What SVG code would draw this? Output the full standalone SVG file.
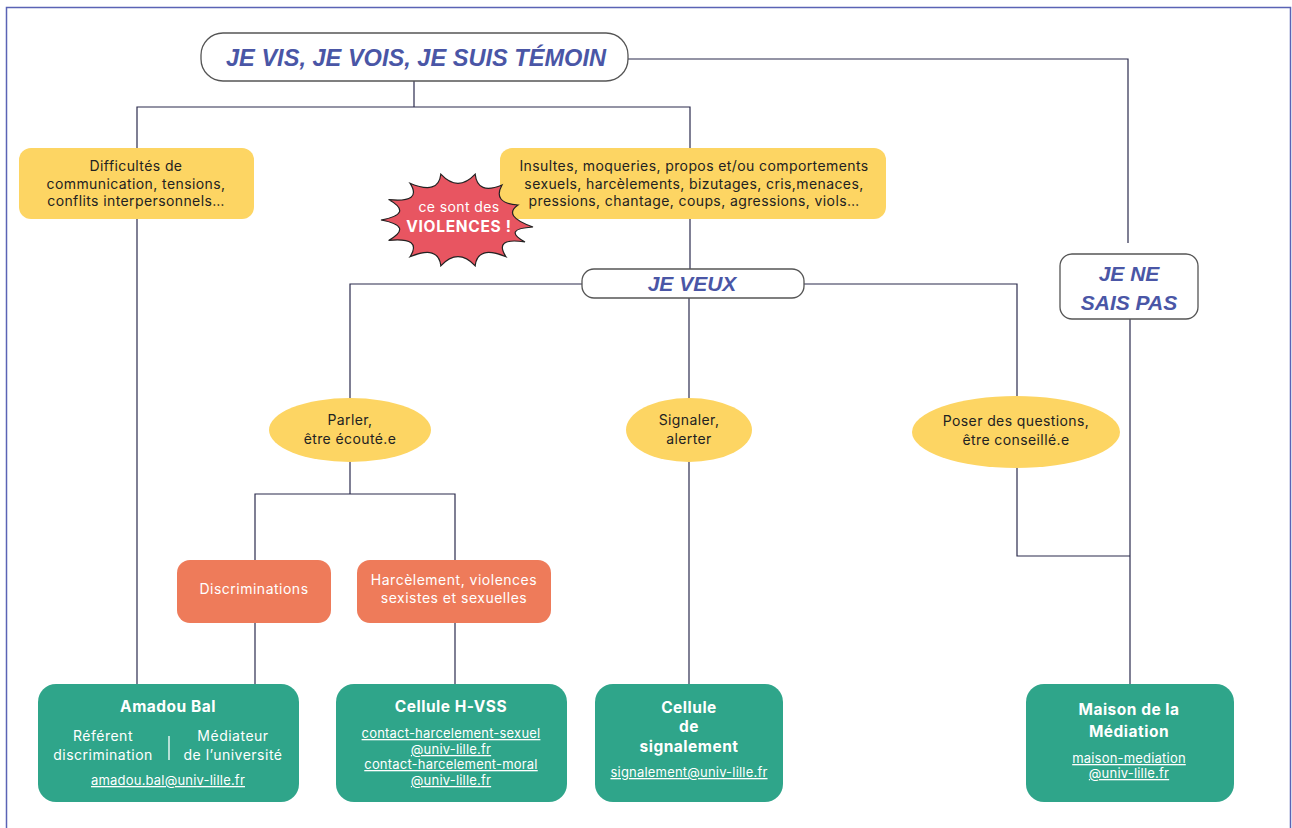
<svg xmlns="http://www.w3.org/2000/svg" width="1292" height="828" viewBox="0 0 1292 828">
<style>
.frame{fill:none;stroke:#5a63b5;stroke-width:1.5}
.conn line,.conn polyline{fill:none;stroke:#2b2b4d;stroke-width:1.2}
.hand{fill:#fff;stroke:#555;stroke-width:1.3}
.ht{font-family:"Liberation Sans",Arial,sans-serif;font-weight:bold;font-style:italic;fill:#4a56a6;text-anchor:middle}
.yel{fill:#fdd563}
.ora{fill:#ee7b5a}
.grn{fill:#2fa58a}
.t{font-family:Inter,"Noto Sans",sans-serif;font-size:14px;letter-spacing:0.4px;fill:#222;text-anchor:middle}
.w{font-family:Inter,"Noto Sans",sans-serif;fill:#fff;text-anchor:middle}
.b{font-weight:bold;font-size:15.5px;letter-spacing:0.5px}
.s{font-size:14px;letter-spacing:0.5px}
.u{font-size:13px;letter-spacing:0.2px;text-decoration:underline}
</style>
<rect x="0" y="0" width="1292" height="828" fill="#fff"/>
<polyline class="frame" points="6.5,828 6.5,7.5 1290.5,7.5 1290.5,828"/>
<g id="connectors" class="conn">
<line x1="414" y1="81" x2="414" y2="107"/>
<polyline points="137,148 137,107 690,107 690,148"/>
<polyline points="628,59 1128,59 1128,243"/>
<line x1="137" y1="219" x2="137" y2="684"/>
<line x1="690" y1="219" x2="690" y2="269"/>
<polyline points="582,284 350,284 350,398"/>
<polyline points="804,284 1017,284 1017,396"/>
<line x1="689" y1="298" x2="689" y2="398"/>
<line x1="689" y1="462" x2="689" y2="684"/>
<line x1="350" y1="462" x2="350" y2="494"/>
<polyline points="255,560 255,494 455,494 455,560"/>
<line x1="255" y1="623" x2="255" y2="684"/>
<line x1="455" y1="623" x2="455" y2="684"/>
<polyline points="1017,468 1017,556 1130,556"/>
<line x1="1130" y1="319" x2="1130" y2="684"/>
</g>
<g id="title">
<rect class="hand" x="201" y="33" width="427" height="48" rx="22"/>
<text class="ht" x="416" y="66" font-size="23" textLength="380" lengthAdjust="spacingAndGlyphs">JE VIS, JE VOIS, JE SUIS TÉMOIN</text>
</g>
<g id="difficultes">
<rect class="yel" x="19" y="148" width="235" height="71" rx="12"/>
<text class="t" x="136" y="171">Difficultés de</text>
<text class="t" x="136" y="189">communication, tensions,</text>
<text class="t" x="136" y="206">conflits interpersonnels…</text>
</g>
<g id="insultes">
<rect class="yel" x="500" y="148" width="386" height="71" rx="12"/>
<text class="t" x="694" y="171">Insultes, moqueries, propos et/ou comportements</text>
<text class="t" x="694" y="189">sexuels, harcèlements, bizutages, cris,menaces,</text>
<text class="t" x="694" y="206">pressions, chantage, coups, agressions, viols…</text>
</g>
<g id="violences">
<path d="M533,227 Q501.9,229 525,242 Q493.2,237.1 506,256.8 Q477.5,244.8 475.2,265.8 Q458,247.5 440.8,265.8 Q438.5,244.8 410,256.8 Q422.8,237.1 388.6,240.4 Q414.1,226.1 381,220 Q414.1,213.9 388.6,199.6 Q422.8,202.9 410,183.2 Q438.5,195.2 440.8,174.2 Q458,192.5 475.2,174.2 Q477.5,195.2 502,185 Q492,203 518,205 Q501.9,216 533,227 Z" fill="#e85561" stroke="#222" stroke-width="1.2"/>
<text class="w" x="459" y="212" font-size="14" letter-spacing="0.4">ce sont des</text>
<text class="w" x="459" y="232" font-size="15.5" font-weight="bold" letter-spacing="0.7">VIOLENCES !</text>
</g>
<g id="jeveux">
<rect class="hand" x="582" y="269" width="222" height="29" rx="12"/>
<text class="ht" x="692" y="291" font-size="21">JE VEUX</text>
</g>
<g id="jenesaispas">
<rect class="hand" x="1060" y="254" width="138" height="65" rx="12"/>
<text class="ht" x="1129" y="281" font-size="21">JE NE</text>
<text class="ht" x="1129" y="310" font-size="21">SAIS PAS</text>
</g>
<g id="parler">
<ellipse class="yel" cx="350" cy="430" rx="81" ry="32"/>
<text class="t" x="350" y="425">Parler,</text>
<text class="t" x="350" y="444">être écouté.e</text>
</g>
<g id="signaler">
<ellipse class="yel" cx="689" cy="430" rx="63" ry="32"/>
<text class="t" x="689" y="425">Signaler,</text>
<text class="t" x="689" y="444">alerter</text>
</g>
<g id="poser">
<ellipse class="yel" cx="1016" cy="432" rx="104" ry="36"/>
<text class="t" x="1016" y="426">Poser des questions,</text>
<text class="t" x="1016" y="445">être conseillé.e</text>
</g>
<g id="discriminations">
<rect class="ora" x="177" y="560" width="154" height="63" rx="13"/>
<text class="w s" x="254" y="594">Discriminations</text>
</g>
<g id="harcelement">
<rect class="ora" x="357" y="560" width="194" height="63" rx="13"/>
<text class="w s" x="454" y="585">Harcèlement, violences</text>
<text class="w s" x="454" y="603">sexistes et sexuelles</text>
</g>
<g id="amadou">
<rect class="grn" x="38" y="684" width="261" height="118" rx="18"/>
<text class="w b" x="168" y="712">Amadou Bal</text>
<text class="w s" x="103" y="741">Référent</text>
<text class="w s" x="103" y="760">discrimination</text>
<line x1="169" y1="736" x2="169" y2="760" stroke="#fff" stroke-width="1.3"/>
<text class="w s" x="233" y="741">Médiateur</text>
<text class="w s" x="233" y="760">de l’université</text>
<text class="w u" x="168" y="785">amadou.bal@univ-lille.fr</text>
</g>
<g id="hvss">
<rect class="grn" x="336" y="684" width="231" height="118" rx="18"/>
<text class="w b" x="451" y="712">Cellule H-VSS</text>
<text class="w u" x="451" y="738">contact-harcelement-sexuel</text>
<text class="w u" x="451" y="754">@univ-lille.fr</text>
<text class="w u" x="451" y="769">contact-harcelement-moral</text>
<text class="w u" x="451" y="785">@univ-lille.fr</text>
</g>
<g id="signalement">
<rect class="grn" x="595" y="684" width="188" height="118" rx="18"/>
<text class="w b" x="689" y="713">Cellule</text>
<text class="w b" x="689" y="732">de</text>
<text class="w b" x="689" y="752">signalement</text>
<text class="w u" x="689" y="777">signalement@univ-lille.fr</text>
</g>
<g id="maison">
<rect class="grn" x="1026" y="684" width="208" height="118" rx="18"/>
<text class="w b" x="1129" y="715">Maison de la</text>
<text class="w b" x="1129" y="737">Médiation</text>
<text class="w u" x="1129" y="763">maison-mediation</text>
<text class="w u" x="1129" y="778">@univ-lille.fr</text>
</g>
</svg>
